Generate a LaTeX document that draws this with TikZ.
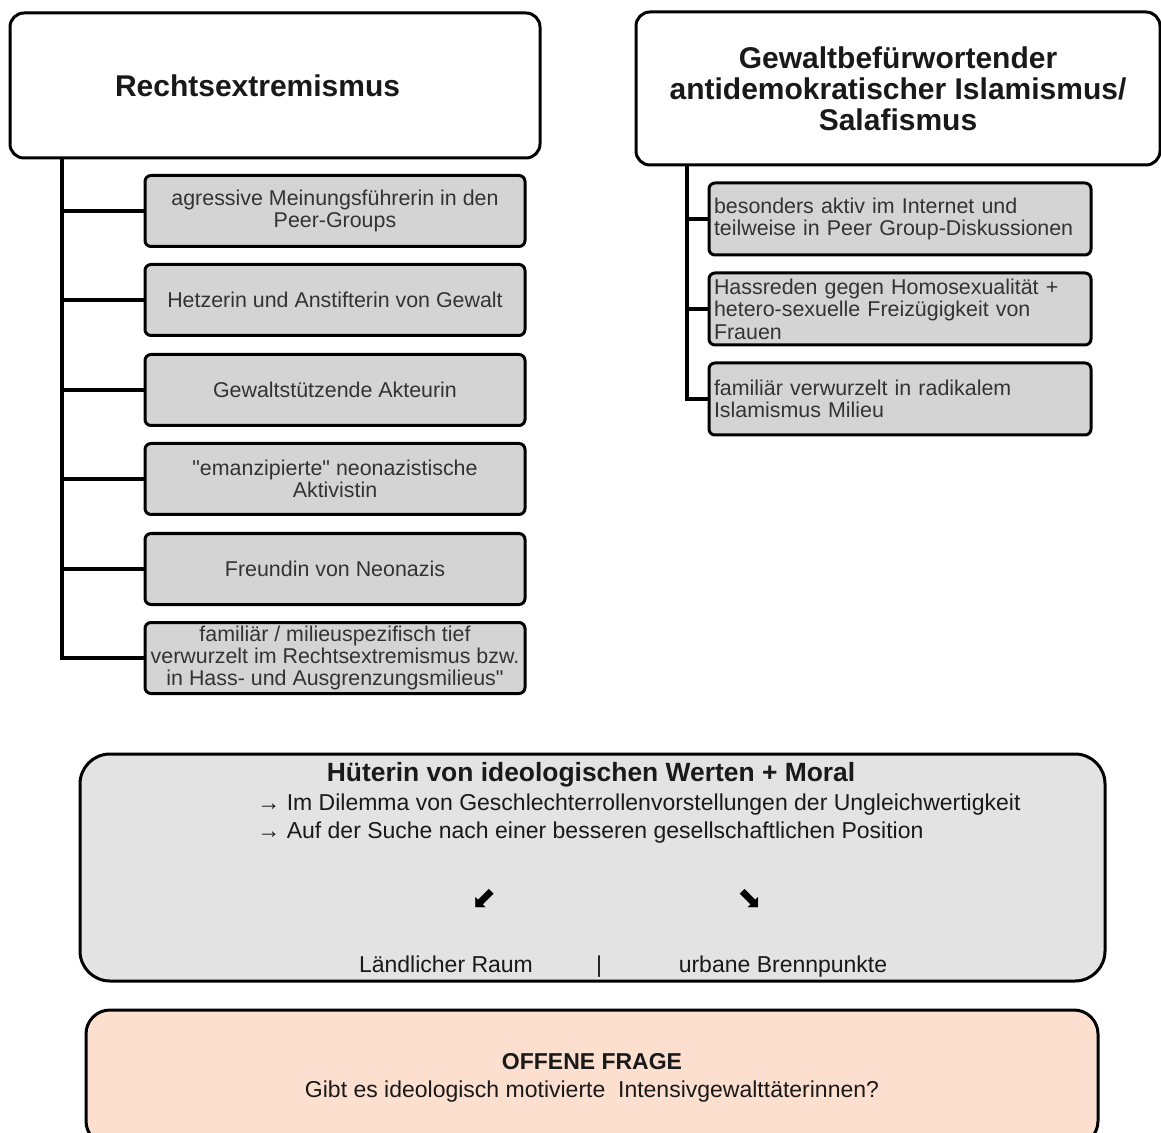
\documentclass[tikz,border=0pt]{standalone}
\usepackage{fontspec}
\setmainfont{Liberation Sans}[Ligatures=TeXOff]
\newfontfamily\symfont{DejaVu Sans}
\usepackage{tikz}
\usetikzlibrary{calc}
\definecolor{rolegray}{HTML}{D4D4D4}
\definecolor{panelgray}{HTML}{E3E3E3}
\definecolor{peach}{HTML}{FDDFCF}

\begin{document}
\begin{tikzpicture}[
    x=0.5pt,
    y=-0.5pt,
    every node/.style={font=\fontsize{10.7}{11}\selectfont, text=black!80},
    head/.style={draw, line width=1.5pt, rounded corners=7pt, fill=white, align=center, font=\fontsize{15}{15.5}\selectfont\bfseries, text=black!90},
    role/.style={draw, line width=1.5pt, rounded corners=3pt, fill=rolegray, align=center, minimum width=190pt, minimum height=35.5pt, inner sep=1pt},
    roleR/.style={role, minimum width=191pt, minimum height=36pt, text width=186pt, align=left, font=\fontsize{10.7}{11.2}\selectfont},
    panel/.style={draw, line width=1.5pt, rounded corners=15pt},
    txt/.style={font=\fontsize{11.5}{14}\selectfont, text=black!90},
    pfeil/.style={font=\fontsize{15}{15}\symfont, text=black},
    link/.style={line width=1.7pt}
]
    \useasboundingbox (0,0) rectangle (1161,1133);

    % Rechtsextremismus
    \node[head, minimum width=265pt, minimum height=72.5pt, text width=160pt, inner xsep=52.5pt, align=left] (ttlL) at (275,85.5) {Rechtsextremismus};
    \node[role] (l1) at (335,211) {agressive Meinungsführerin in den\\Peer-Groups};
    \node[role] (l2) at (335,300) {Hetzerin und Anstifterin von Gewalt};
    \node[role] (l3) at (335,390) {Gewaltstützende Akteurin};
    \node[role] (l4) at (335,479) {"emanzipierte" neonazistische\\Aktivistin};
    \node[role] (l5) at (335,569) {Freundin von Neonazis};
    \node[role] (l6) at (335,658) {familiär / milieuspezifisch tief\\verwurzelt im Rechtsextremismus bzw.\\in Hass- und Ausgrenzungsmilieus"};

    \coordinate (trunkL) at (62,157);
    \draw[link] (trunkL) |- (l6.west);
    \foreach \i in {1,...,5}
        \draw[link] (trunkL |- l\i.west) -- (l\i.west);

    % Islamismus / Salafismus
    \node[head, minimum width=262pt, minimum height=76.5pt] (ttlR) at (898,88.5) {Gewaltbefürwortender\\antidemokratischer Islamismus/\\Salafismus};
    \node[roleR] (r1) at (900,219) {besonders aktiv im Internet und\\teilweise in Peer Group-Diskussionen};
    \node[roleR] (r2) at (900,309) {Hassreden gegen Homosexualität +\\hetero-sexuelle Freizügigkeit von\\Frauen};
    \node[roleR] (r3) at (900,399) {familiär verwurzelt in radikalem\\Islamismus Milieu};

    \coordinate (trunkR) at (687,165);
    \draw[link] (trunkR) |- (r3.west);
    \foreach \i in {1,2}
        \draw[link] (trunkR |- r\i.west) -- (r\i.west);

    % gemeinsame Ebene
    \node[panel, fill=panelgray, minimum width=512.5pt, minimum height=113.5pt] (ideal) at (592.5,867.5) {};
    \node[txt, font=\fontsize{13.2}{14}\selectfont\bfseries] (hueter) at (591,775) {Hüterin von ideologischen Werten + Moral};
    \node[txt, anchor=west, inner sep=0pt] (dilemma) at (257,805) {→ Im Dilemma von Geschlechterrollenvorstellungen der Ungleichwertigkeit};
    \node[txt, anchor=west, inner sep=0pt] (suche) at (257,833) {→ Auf der Suche nach einer besseren gesellschaftlichen Position};
    \node[pfeil] (pfeilL) at (484,899) {⬋};
    \node[pfeil] (pfeilR) at (750,899) {⬊};
    \node[txt, anchor=base] (land) at (446,972) {Ländlicher Raum};
    \node[txt, anchor=base] (trenn) at (599,972) {|};
    \node[txt, anchor=base] (stadt) at (783,972) {urbane Brennpunkte};

    % offene Frage
    \node[panel, fill=peach, rounded corners=12pt, minimum width=506pt, minimum height=67.5pt, align=center, txt] (frage) at (592,1077.5) {\textbf{OFFENE FRAGE}\\Gibt es ideologisch motivierte~ Intensivgewalttäterinnen?};
\end{tikzpicture}
\end{document}
